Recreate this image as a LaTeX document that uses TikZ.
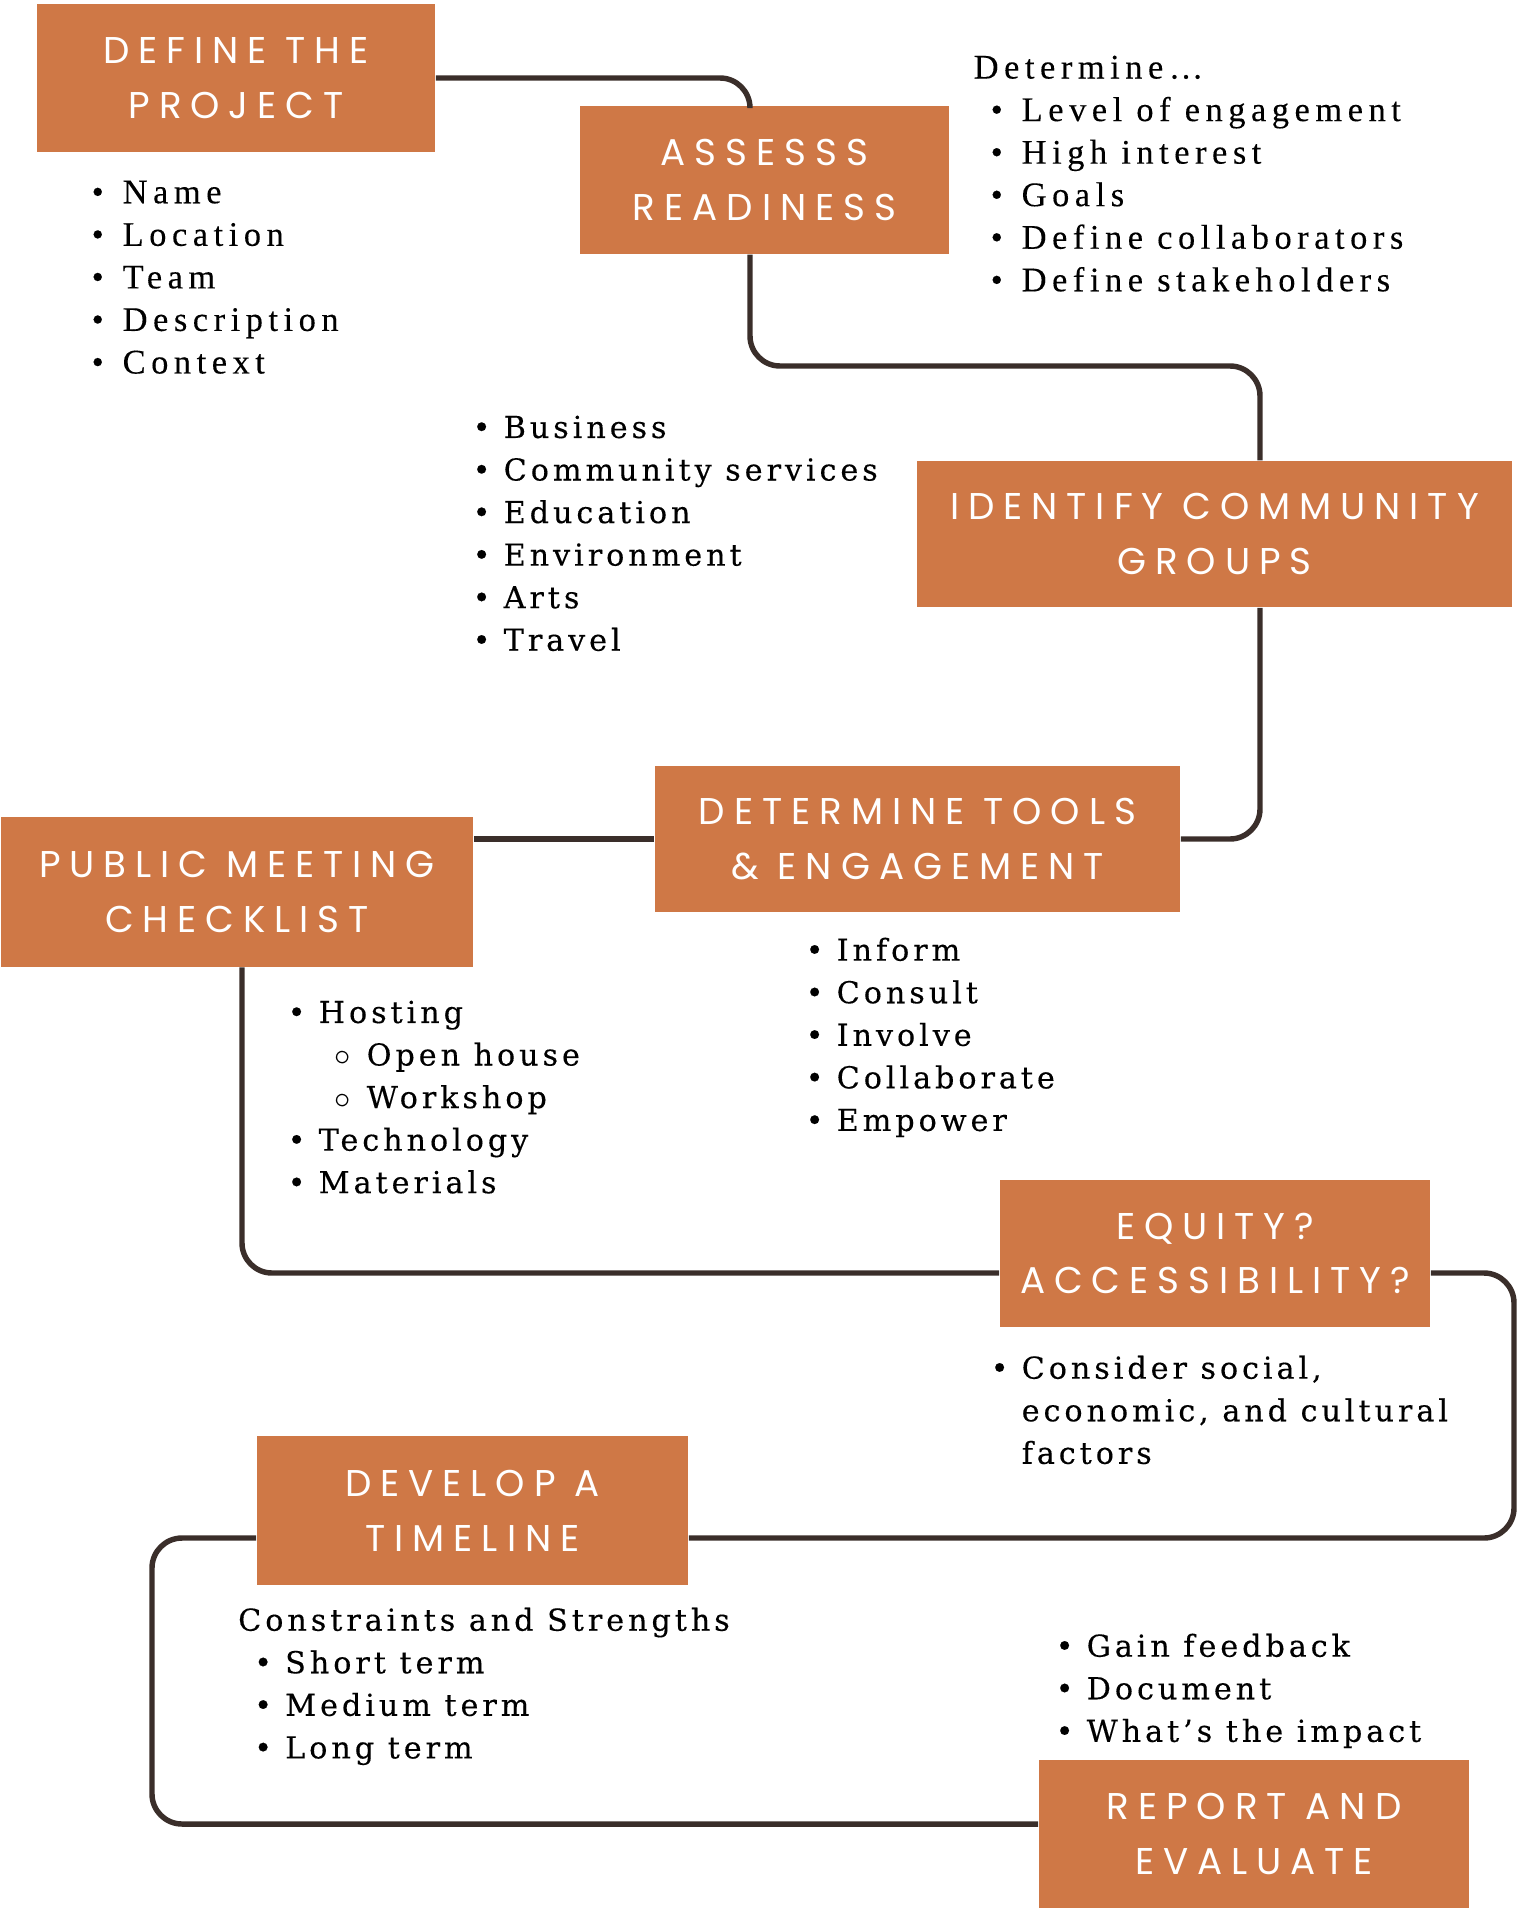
\documentclass[tikz,border=0pt]{standalone}
\usepackage{fontspec}
\definecolor{boxcolor}{RGB}{207,120,70}
\definecolor{linecolor}{RGB}{58,46,42}
\newfontfamily\headfont[LetterSpace=24]{Poppins}
\newfontfamily\listfont[LetterSpace=13,FakeBold=0.3]{DejaVu Serif}
\newfontfamily\notefont[LetterSpace=16,FakeBold=0.2]{Liberation Serif}
\newcommand{\itm}{\makebox[0.31cm][l]{\textbullet}}
\newcommand{\subitm}{\hspace*{0.47cm}\makebox[0.32cm][l]{$\circ$}}

\begin{document}
\begin{tikzpicture}[
    x=0.01cm, y=-0.01cm,
    stagebox/.style={fill=boxcolor, text=white, align=center, inner sep=0pt,
        font=\headfont\fontsize{10.6}{15.6}\selectfont},
    link/.style={draw=linecolor, line width=1.55pt, rounded corners=0.3cm},
    bullets/.style={anchor=north west, inner sep=0pt, align=left,
        font=\listfont\fontsize{8.6}{12.1}\selectfont},
    notes/.style={bullets, font=\notefont\fontsize{9.8}{12.1}\selectfont}
]
    \useasboundingbox (0,0) rectangle (1518,1912);

    % Stages
    \node[stagebox, minimum width=3.98cm, minimum height=1.47cm] (define) at (236,78) {DEFINE THE\\PROJECT};
    \node[stagebox, minimum width=3.69cm, minimum height=1.48cm] (assess) at (764.5,180) {ASSESSS\\READINESS};
    \node[stagebox, minimum width=5.95cm, minimum height=1.46cm] (identify) at (1214.5,534) {IDENTIFY COMMUNITY\\GROUPS};
    \node[stagebox, minimum width=5.25cm, minimum height=1.46cm] (tools) at (917.5,839) {DETERMINE TOOLS\\\& ENGAGEMENT};
    \node[stagebox, minimum width=4.72cm, minimum height=1.49cm] (public) at (237,892) {PUBLIC MEETING\\CHECKLIST};
    \node[stagebox, minimum width=4.30cm, minimum height=1.47cm] (equity) at (1215,1253.5) {EQUITY?\\ACCESSIBILITY?};
    \node[stagebox, minimum width=4.31cm, minimum height=1.49cm] (timeline) at (472.5,1510.5) {DEVELOP A\\TIMELINE};
    \node[stagebox, minimum width=4.30cm, minimum height=1.48cm] (report) at (1254,1834) {REPORT AND\\EVALUATE};

    % Bends of the path
    \coordinate (colA) at (750,0);
    \coordinate (colB) at (1260,0);
    \coordinate (colC) at (242,0);
    \coordinate (colD) at (1514,0);
    \coordinate (colE) at (152,0);
    \coordinate (rowB) at (0,366);
    \coordinate (rowE) at (0,1273);
    \coordinate (rowF) at (0,1538);
    \coordinate (rowG) at (0,1824);

    % Path
    \draw[link] (define.east) -| (assess.north -| colA);
    \draw[link] (assess.south -| colA) |- (rowB -| colB) -- (identify.north -| colB);
    \draw[link] (identify.south -| colB) |- (tools.east);
    \draw[link] (tools.west) -- (tools.west -| public.east);
    \draw[link] (public.south -| colC) |- (equity.west |- rowE);
    \draw[link] (equity.east |- rowE) -| (colD |- rowF) -- (timeline.east |- rowF);
    \draw[link] (timeline.west |- rowF) -| (colE |- rowG) -- (report.west |- rowG);

    % Lists
    \node[notes] (projectlist) at (91,180) {\itm Name\\ \itm Location\\ \itm Team\\ \itm Description\\ \itm Context};
    \node[notes] (readinesslist) at (973,55) {Determine…\\
        \hspace*{0.17cm}\itm Level of engagement\\
        \hspace*{0.17cm}\itm High interest\\
        \hspace*{0.17cm}\itm Goals\\
        \hspace*{0.17cm}\itm Define collaborators\\
        \hspace*{0.17cm}\itm Define stakeholders};
    \node[bullets] (grouplist) at (472,415) {\itm Business\\ \itm Community services\\ \itm Education\\ \itm Environment\\ \itm Arts\\ \itm Travel};
    \node[bullets] (toollist) at (805,937) {\itm Inform\\ \itm Consult\\ \itm Involve\\ \itm Collaborate\\ \itm Empower};
    \node[bullets] (meetinglist) at (287,1000) {\itm Hosting\\ \subitm Open house\\ \subitm Workshop\\ \itm Technology\\ \itm Materials};
    \node[bullets] (equitylist) at (990,1355) {\itm Consider social,\\ \hspace*{0.31cm}economic, and cultural\\ \hspace*{0.31cm}factors};
    \node[bullets] (timelinelist) at (237.5,1607) {Constraints and Strengths\\
        \hspace*{0.16cm}\itm Short term\\
        \hspace*{0.16cm}\itm Medium term\\
        \hspace*{0.16cm}\itm Long term};
    \node[bullets] (reportlist) at (1055,1633) {\itm Gain feedback\\ \itm Document\\ \itm What’s the impact};
\end{tikzpicture}
\end{document}
